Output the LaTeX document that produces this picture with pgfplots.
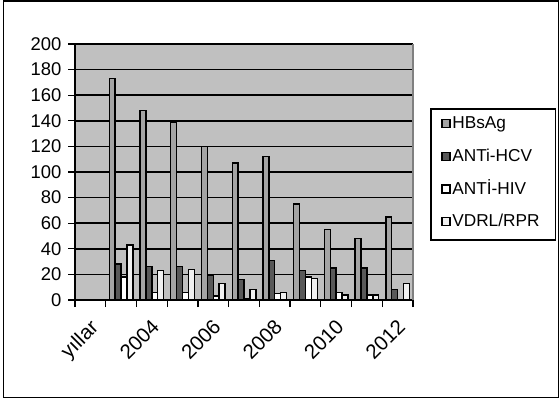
\documentclass[border=0pt]{standalone}
\usepackage{pgfplots}
\pgfplotsset{compat=1.18}
\usepackage{fontspec}
\setmainfont{Liberation Sans}

\definecolor{plotbg}{HTML}{C0C0C0}
\definecolor{hbs}{HTML}{A4A4A4}
\definecolor{hcv}{HTML}{595959}
\definecolor{hiv}{HTML}{FFFFFF}
\definecolor{vdrl}{HTML}{F0F0F0}
\definecolor{frameright}{HTML}{808080}

\begin{document}
\begin{tikzpicture}[x=1bp,y=1bp]
\useasboundingbox (0,0) rectangle (559,399);
% outer chart frame
\draw[line width=1.4bp] (3.5,1.5) rectangle (558.3,397.8);

\begin{axis}[
  at={(75bp,99bp)}, anchor=south west,
  scale only axis, width=338bp, height=256bp,
  ybar=0pt, bar width=5.9bp,
  xmin=-0.5, xmax=10.5, ymin=0, ymax=200,
  axis lines=left, axis line style={-, black, line width=1.5bp},
  axis background/.style={fill=plotbg},
  ytick={0,20,...,200},
  xtick={0,2,...,10},
  xticklabels={yıllar,2004,2006,2008,2010,2012},
  minor xtick={-0.5,0.5,...,10.5},
  major x tick style={draw=none},
  minor x tick style={black, line width=1.3bp},
  major y tick style={black, line width=1.3bp},
  major tick length=7bp, minor tick length=7bp,
  tick align=outside,
  ymajorgrids, major grid style={black, line width=1.7bp},
  /pgf/number format/assume math mode=true,
  ticklabel style={font=\fontsize{18.5}{20}\selectfont},
  yticklabel style={xshift=-3bp},
  xticklabel style={rotate=45, anchor=north east, inner sep=2bp,
    font=\fontsize{20.5}{22}\selectfont, xshift=-7bp, yshift=-5bp},
  legend style={draw=none, fill=none, at={(1.0835,0.7266)}, anchor=north west,
    inner sep=0pt, row sep=13.7bp,
    font=\fontsize{17.3}{19}\selectfont,
    nodes={inner sep=1.5bp, text height=13bp, text depth=3bp},
    cells={anchor=west}},
  legend image code/.code={\draw[#1] (0bp,-4bp) rectangle (8bp,4bp);},
  clip=false,
]
\addplot[fill=hbs, draw=black, line width=1.4bp]
  coordinates {(1,173) (2,148) (3,139) (4,120) (5,107) (6,112) (7,75) (8,55) (9,48) (10,65)};
\addplot[fill=hcv, draw=black, line width=1.4bp]
  coordinates {(1,28) (2,26) (3,26) (4,19) (5,16) (6,31) (7,23) (8,25) (9,25) (10,8)};
\addplot[fill=hiv, draw=black, line width=1.4bp]
  coordinates {(1,18) (2,6) (3,6) (4,3) (5,1) (6,5) (7,18) (8,6) (9,4) (10,0)};
\addplot[fill=vdrl, draw=black, line width=1.4bp]
  coordinates {(1,43) (2,23) (3,24) (4,13) (5,8) (6,6) (7,17) (8,4) (9,4) (10,13)};
\legend{HBsAg, ANTi-HCV, ANTİ-HIV, VDRL/RPR}
% grey right edge of the plot area
\draw[frameright, line width=1.3bp] (rel axis cs:1,0) -- (rel axis cs:1,1);
\end{axis}

% legend frame
\draw[line width=1.3bp] (431,159) rectangle (555.5,290);
\end{tikzpicture}
\end{document}
